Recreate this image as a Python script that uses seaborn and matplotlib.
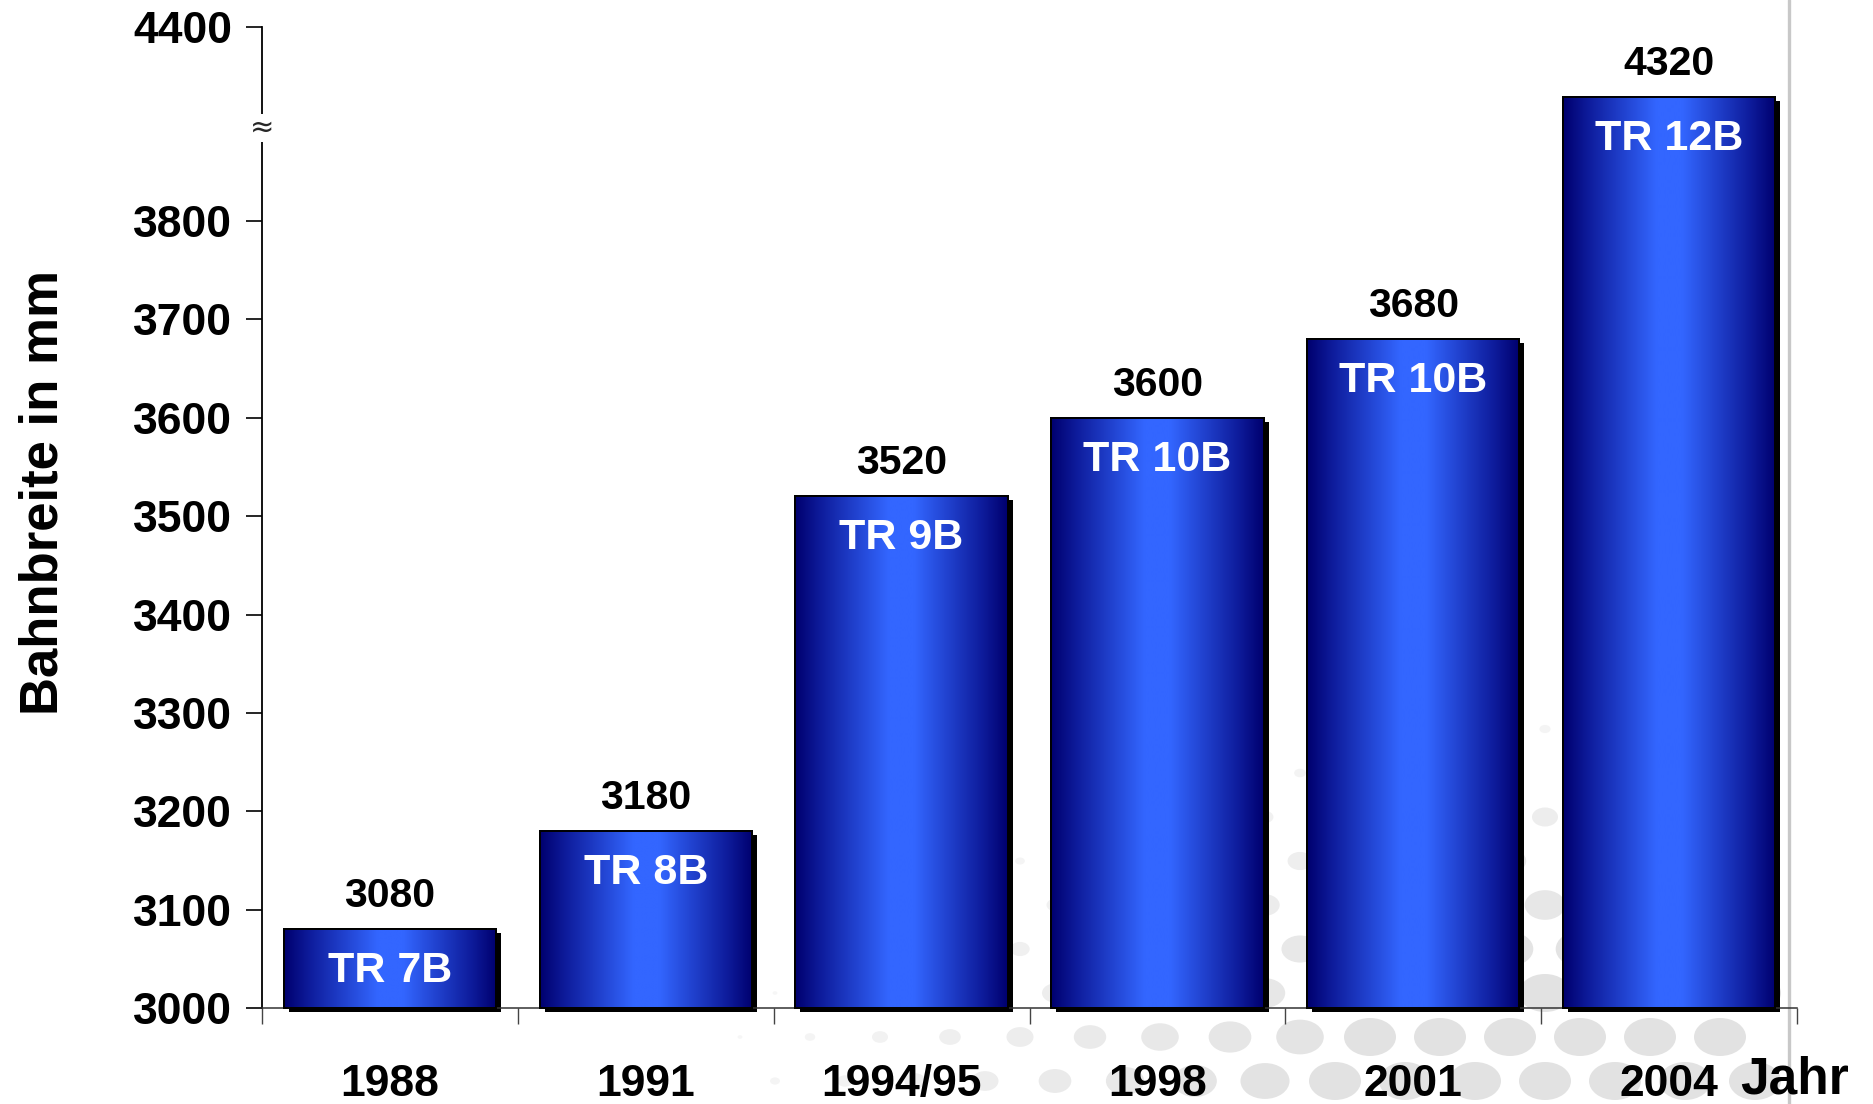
import numpy as np
import pandas as pd
import matplotlib
matplotlib.use("Agg")
import matplotlib.pyplot as plt
import seaborn as sns
from matplotlib import patheffects as pe
from matplotlib.colors import LinearSegmentedColormap
from matplotlib.patches import Rectangle, Ellipse
from matplotlib.lines import Line2D
import matplotlib.transforms as mtransforms

# ---------------- data ----------------
years = ["1988", "1991", "1994/95", "1998", "2001", "2004"]
widths_mm = [3080, 3180, 3520, 3600, 3680, 4320]
models = ["TR 7B", "TR 8B", "TR 9B", "TR 10B", "TR 10B", "TR 12B"]
y_ticks = [3000, 3100, 3200, 3300, 3400, 3500, 3600, 3700, 3800, 4400]
y_label = "Bahnbreite in mm"
x_label = "Jahr"

df = pd.DataFrame({"Jahr": years, "Bahnbreite": widths_mm, "Typ": models})

# ---------------- figure ----------------
W, H, DPI = 1873, 1104, 100
sns.set_theme(style="ticks")
plt.rcParams["font.family"] = ["Liberation Sans", "DejaVu Sans"]
plt.rcParams["font.weight"] = "bold"

fig = plt.figure(figsize=(W / DPI, H / DPI), dpi=DPI, facecolor="white")
ax = fig.add_axes([262 / W, 1 - 1008 / H, (1797 - 262) / W, (1008 - 27) / H])
ax.patch.set_alpha(0)

# decorative halftone dots (background of the slide)
BORDER_X = 1789.0
cx, cy, rx, ry = 1730.0, 1200.0, 1100.0, 545.0
for row, yy in enumerate(np.arange(1125, 560, -44.0)):
    off = 35.0 if row % 2 else 0.0
    for xx in np.arange(530 + off, BORDER_X - 20, 70.0):
        r = np.hypot((xx - cx) / rx, (yy - cy) / ry)
        s = 1.0 - r
        if s <= 0.05:
            continue
        s = min(s * 1.8, 1.0)
        g = 0.975 - 0.09 * s
        fig.add_artist(Ellipse((xx / W, 1 - yy / H), 52 * s / W, 38 * s / H,
                               transform=fig.transFigure, facecolor=(g, g, g),
                               edgecolor="none", zorder=-2))

# slide border line on the right
fig.add_artist(Line2D([BORDER_X / W, BORDER_X / W], [0, 1], transform=fig.transFigure,
                      color="#c8c8c8", lw=2.4, zorder=-1))

# ---------------- bars ----------------
sns.barplot(data=df, x="Jahr", y="Bahnbreite", ax=ax, width=0.83,
            color="#000080", saturation=1, edgecolor="black", linewidth=1.4,
            errorbar=None, zorder=2)

# broken y scale: linear up to the break, then compressed upper part
B1, B2, K = 3895.0, 4285.0, 0.889


def fwd(v):
    v = np.asarray(v, float)
    return np.where(v <= B1, v, np.where(v >= B2, B1 + (v - B2) * K, B1))


def inv(u):
    u = np.asarray(u, float)
    return np.where(u <= B1, u, B2 + (u - B1) / K)


ax.set_yscale("function", functions=(fwd, inv))
ax.set_autoscale_on(False)
ax.set_ylim(y_ticks[0], y_ticks[-1])
ax.set_xlim(-0.5, len(years) - 0.5)

ybase = y_ticks[0]
shadow = [pe.SimplePatchShadow(offset=(3.6, -2.9), shadow_rgbFace="black", alpha=1.0),
          pe.Normal()]
grad_cmap = LinearSegmentedColormap.from_list(
    "bar", [(0.0, "#00006e"), (0.12, "#0e1c9c"), (0.44, "#3366ff"),
            (0.56, "#3366ff"), (0.88, "#0e1c9c"), (1.0, "#00006e")])
grad = np.linspace(0, 1, 256)[None, :]
to_ax = ax.transData + ax.transAxes.inverted()

for p in list(ax.patches):
    top = p.get_y() + p.get_height()
    p.set_y(ybase)
    p.set_height(top - ybase)
    p.set_clip_on(False)
    p.set_path_effects(shadow)
    x0 = p.get_x()
    x1 = x0 + p.get_width()
    (ax0, ay0), (ax1, ay1) = to_ax.transform([[x0, ybase], [x1, top]])
    ax.imshow(grad, extent=[ax0, ax1, ay0, ay1], transform=ax.transAxes,
              cmap=grad_cmap, aspect="auto", interpolation="bilinear", zorder=2.5)
    ax.add_patch(Rectangle((x0, ybase), x1 - x0, top - ybase, fill=False,
                           edgecolor="black", lw=1.4, zorder=3, clip_on=False))

ax.set_ylim(y_ticks[0], y_ticks[-1])
ax.set_xlim(-0.5, len(years) - 0.5)

# ---------------- labels on bars ----------------
for i, (v, m) in enumerate(zip(widths_mm, models)):
    ax.annotate(f"{v}", (i, v), xytext=(0, 16), textcoords="offset points",
                ha="center", va="baseline", fontsize=29.5, fontweight="bold",
                color="black", annotation_clip=False, zorder=5)
    ax.annotate(m, (i, v), xytext=(0, -38), textcoords="offset points",
                ha="center", va="baseline", fontsize=31, fontweight="bold",
                color="white", zorder=5)

# ---------------- axes ----------------
ax.set_xlabel("")
ax.set_ylabel("")
ax.set_yticks(y_ticks)
ax.set_yticklabels([str(t) for t in y_ticks])
ax.tick_params(axis="y", which="major", length=11.5, width=1.2, pad=10,
               labelsize=32, direction="out", left=True, color="black")
ax.set_xticks(range(len(years)))
ax.set_xticklabels(years)
ax.tick_params(axis="x", which="major", length=0, pad=40, labelsize=32, bottom=True)
ax.set_xticks(np.arange(-0.5, len(years), 1.0), minor=True)
ax.tick_params(axis="x", which="minor", length=11.5, width=1.0, color="#444444",
               direction="out", bottom=True)
for t in ax.get_xticklabels() + ax.get_yticklabels():
    t.set_fontweight("bold")
    t.set_color("black")

for s in ["top", "right"]:
    ax.spines[s].set_visible(False)
ax.spines["left"].set_color("black")
ax.spines["left"].set_linewidth(1.3)
ax.spines["bottom"].set_color("#333333")
ax.spines["bottom"].set_linewidth(1.1)
ax.spines["left"].set_zorder(1)

# axis break mark
brk = mtransforms.blended_transform_factory(ax.transAxes, ax.transData)
ax.text(0, B1 + 2, "≈", transform=brk, ha="center", va="center", fontsize=21,
        family="DejaVu Sans", fontweight="normal",
        bbox=dict(facecolor="white", edgecolor="none", pad=0.0),
        zorder=6, clip_on=False)

fig.text(44 / W, 1 - 493 / H, y_label, rotation=90, ha="center", va="center",
         fontsize=38, fontweight="bold", color="black")
fig.text(1740 / W, 1 - 1093 / H, x_label, ha="left", va="baseline",
         fontsize=37, fontweight="bold", color="black")

fig.savefig("out.png", dpi=DPI, facecolor="white")
